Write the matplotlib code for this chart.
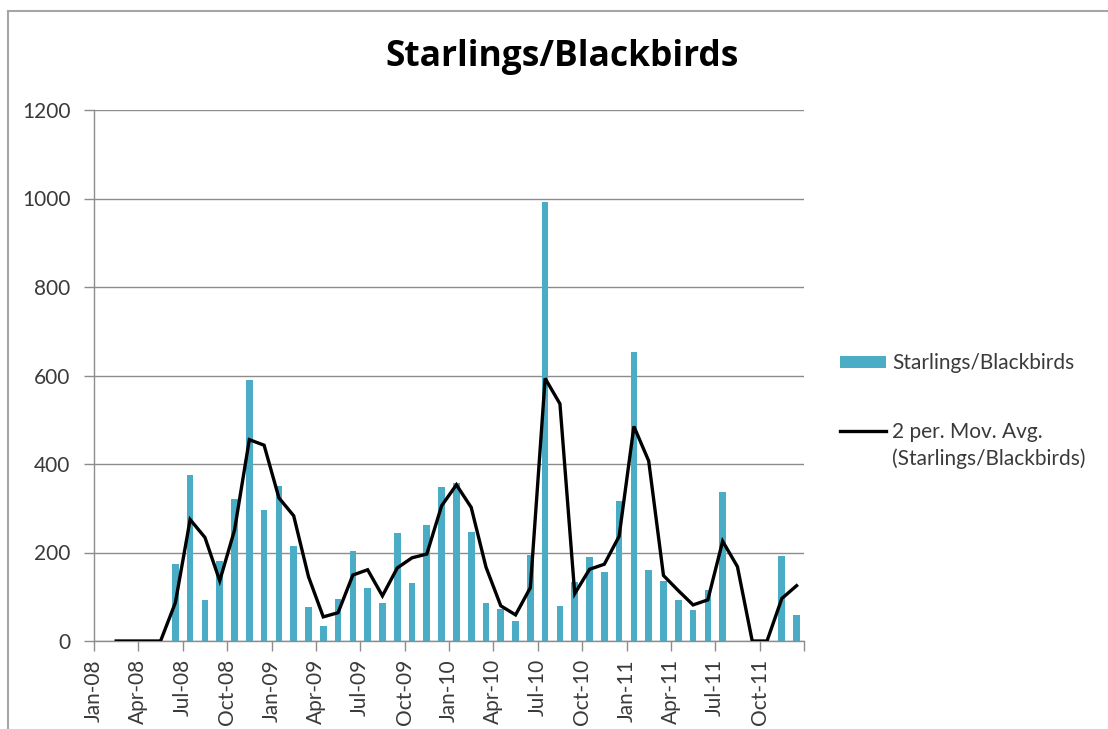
import numpy as np
import matplotlib
matplotlib.use("Agg")
import matplotlib.pyplot as plt
from matplotlib.lines import Line2D
from matplotlib.patches import Patch


# monthly counts, Jan-08 .. Dec-11
months = [f"{m}-{y:02d}" for y in range(8, 12)
          for m in ["Jan", "Feb", "Mar", "Apr", "May", "Jun",
                    "Jul", "Aug", "Sep", "Oct", "Nov", "Dec"]]
counts = [
    0, 0, 0, 0, 0, 173, 376, 92, 180, 321, 589, 296,
    351, 215, 76, 33, 95, 203, 119, 85, 245, 131, 262, 349,
    357, 247, 87, 72, 46, 195, 992, 80, 134, 190, 157, 316,
    654, 160, 136, 92, 71, 115, 336, 0, 0, 0, 192, 58,
]
yticks = [0, 200, 400, 600, 800, 1000, 1200]

BAR_COLOR = "#4bacc6"
GRID = "#8c8c8c"
TEXT = "#3a3a3a"
FONT = "Lato"

plt.rcParams["font.family"] = [FONT, "DejaVu Sans"]

x = np.arange(len(counts))
vals = np.array(counts, dtype=float)
# Excel style 2 period moving average, starts at the second month
mov_avg = (vals[1:] + vals[:-1]) / 2

fig = plt.figure(figsize=(11.08, 7.29), dpi=100)
ax = fig.add_axes([94 / 1108, 1 - 641 / 729, 710 / 1108, 531 / 729])

ax.bar(x, vals, width=0.45, color=BAR_COLOR, zorder=2)
ax.plot(x[1:], mov_avg, color="black", lw=2.4, zorder=3, solid_joinstyle="miter")

ax.set_xlim(-0.5, len(counts) - 0.5)
ax.set_ylim(0, 1200)
ax.set_yticks(yticks)
ax.set_yticklabels([str(v) for v in yticks])
ax.yaxis.grid(True, color=GRID, lw=1.0, zorder=0)
ax.set_axisbelow(True)

tick_pos = list(np.arange(0, len(counts) + 1, 3) - 0.5)
tick_lab = [months[i] if i < len(months) else "" for i in range(0, len(counts) + 1, 3)]
ax.set_xticks(tick_pos)
ax.set_xticklabels(tick_lab, rotation=90)

for s in ["top", "right"]:
    ax.spines[s].set_visible(False)
for s in ["left", "bottom"]:
    ax.spines[s].set_color(GRID)
    ax.spines[s].set_linewidth(1.0)
ax.tick_params(axis="both", colors=GRID, length=7, width=1.0, labelsize=15, labelcolor=TEXT)
ax.tick_params(axis="y", pad=10)
ax.tick_params(axis="x", pad=6)

fig.text(562 / 1108, 1 - 57 / 729, "Starlings/Blackbirds", ha="center", va="center",
         fontsize=25.5, fontweight="bold", color="black", family=["Open Sans", "DejaVu Sans"])

# legend
handles = [Patch(facecolor=BAR_COLOR, edgecolor="none"),
           Line2D([], [], color="black", lw=2.4)]
leg = fig.legend(handles, ["Starlings/Blackbirds", "2 per. Mov. Avg."],
                 loc="upper left", bbox_to_anchor=(832 / 1108, 1 - 345 / 729),
                 frameon=False, fontsize=15, handlelength=2.2, handleheight=0.55,
                 handletextpad=0.3, labelspacing=2.35, borderaxespad=0)
for t in leg.get_texts():
    t.set_color(TEXT)
fig.text(892 / 1108, 1 - 459 / 729, "(Starlings/Blackbirds)", ha="left", va="center",
         fontsize=15, color=TEXT)

# chart frame (left and top edges visible)
fig.add_artist(Line2D([8 / 1108, 8 / 1108], [0, 1 - 11 / 729], color="#a6a6a6", lw=1.5,
                      transform=fig.transFigure))
fig.add_artist(Line2D([8 / 1108, 1], [1 - 11 / 729, 1 - 11 / 729], color="#a6a6a6", lw=1.5,
                      transform=fig.transFigure))

fig.savefig("out.png", dpi=100)
